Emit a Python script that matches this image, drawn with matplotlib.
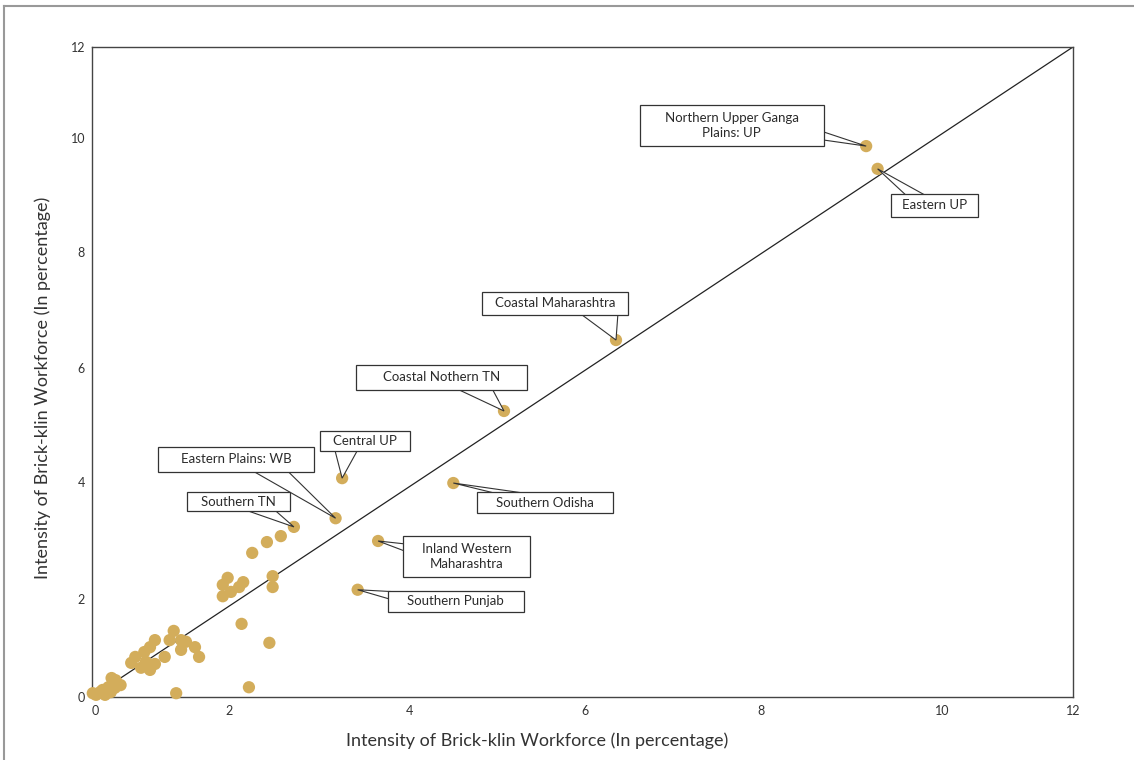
import matplotlib.pyplot as plt
from matplotlib.patches import Rectangle, Polygon
from matplotlib.lines import Line2D

plt.rcParams['font.family'] = ['Lato', 'DejaVu Sans']

# regions that get a callout
named_regions = ['Northern Upper Ganga\nPlains: UP', 'Eastern UP', 'Coastal Maharashtra',
                 'Coastal Nothern TN', 'Central UP', 'Eastern Plains: WB', 'Southern TN',
                 'Southern Odisha', 'Inland Western\nMaharashtra', 'Southern Punjab']
named_x = [9.47, 9.61, 6.41, 5.04, 3.06, 2.98, 2.47, 4.42, 3.50, 3.25]
named_y = [10.17, 9.75, 6.59, 5.28, 4.04, 3.30, 3.14, 3.95, 2.88, 1.98]

# remaining regions
other_x = [2.31, 2.14, 1.96, 1.66, 1.60, 1.85, 1.80, 1.70, 1.60, 2.21, 2.21, 1.83, 2.17,
           1.92, 1.03, 1.00, 1.09, 1.15, 1.26, 1.31, 1.09, 0.95, 0.89, 0.77, 0.71, 0.64,
           0.53, 0.48, 0.60, 0.71, 0.77, 0.66, 0.35, 0.29, 0.24, 0.20, 0.13, 0.10, 0.05,
           0.16, 0.23, 0.28, 0.01]
other_y = [2.97, 2.86, 2.66, 2.20, 2.07, 2.12, 2.03, 1.94, 1.86, 2.23, 2.03, 1.35, 1.00,
           0.18, 0.07, 1.22, 1.05, 1.02, 0.92, 0.74, 0.87, 1.05, 0.74, 1.05, 0.92, 0.83,
           0.74, 0.63, 0.54, 0.50, 0.61, 0.65, 0.22, 0.31, 0.35, 0.18, 0.13, 0.09, 0.04,
           0.04, 0.09, 0.17, 0.07]

tick_labels = ['0', '2', '4', '6', '8', '10', '12']
axis_title = 'Intensity of Brick-klin Workforce (In percentage)'

# callout layout: box (x0, x1, y0, y1) and the two points where the pointer leaves the box
boxes = [(6.70, 8.95, 10.17, 10.93), (9.77, 10.84, 8.86, 9.29), (4.77, 6.56, 7.05, 7.48),
         (3.23, 5.32, 5.67, 6.13), (2.79, 3.89, 4.54, 4.91), (0.81, 2.72, 4.15, 4.62),
         (1.16, 2.42, 3.43, 3.78), (4.71, 6.37, 3.40, 3.78), (3.80, 5.36, 2.22, 2.97),
         (3.62, 5.28, 1.57, 1.96)]
pointer_base = [((8.95, 10.47), (8.95, 10.28)), ((9.92, 9.29), (10.17, 9.29)),
                ((6.01, 7.05), (6.50, 7.05)), ((4.48, 5.67), (4.95, 5.67)),
                ((2.94, 4.54), (3.24, 4.54)), ((1.99, 4.15), (2.45, 4.15)),
                ((1.90, 3.43), (2.28, 3.43)), ((4.87, 3.78), (5.26, 3.78)),
                ((3.80, 2.84), (3.80, 2.68)), ((3.62, 1.96), (3.62, 1.79))]

gold = '#D3AD5B'
edge = '#333333'

fig = plt.figure(figsize=(11.34, 7.6), dpi=100)
ax = fig.add_axes([0.0811, 0.0829, 0.8651, 0.8553])
ax.set_xlim(0, 12)
ax.set_ylim(0, 12)

ax.plot([0, 12], [0, 12], color='#222222', lw=0.9, zorder=2)
ax.scatter(other_x, other_y, s=78, color=gold, edgecolors='none', zorder=3, clip_on=False)
ax.scatter(named_x, named_y, s=78, color=gold, edgecolors='none', zorder=3)

for name, px, py, (x0, x1, y0, y1), (b1, b2) in zip(named_regions, named_x, named_y,
                                                   boxes, pointer_base):
    # push the pointer base a little into the box so it is hidden under it
    cx, cy = (x0 + x1) / 2, (y0 + y1) / 2
    b1 = (b1[0] + (cx - b1[0]) * 0.08, b1[1] + (cy - b1[1]) * 0.08)
    b2 = (b2[0] + (cx - b2[0]) * 0.08, b2[1] + (cy - b2[1]) * 0.08)
    ax.add_patch(Polygon([b1, b2, (px, py)], closed=True, facecolor='white',
                         edgecolor=edge, lw=0.8, zorder=4))
    ax.add_patch(Rectangle((x0, y0), x1 - x0, y1 - y0, facecolor='white',
                           edgecolor=edge, lw=0.9, zorder=5))
    ax.text(cx, cy, name, ha='center', va='center', fontsize=9.5, color='#2b2b2b',
            linespacing=1.35, zorder=6)

for side in ax.spines.values():
    side.set_color('#444444')
    side.set_linewidth(1.0)

ax.set_xticks([0.04, 1.68, 3.88, 6.03, 8.18, 10.40, 12.0], tick_labels)
ax.set_yticks([0.0, 1.81, 3.96, 6.08, 8.21, 10.32, 12.0], tick_labels)
ax.tick_params(length=0, labelsize=9, labelcolor='#333333')
ax.tick_params(axis='x', pad=6)
ax.tick_params(axis='y', pad=5)

fig.text(0.4735, 0.025, axis_title, ha='center', va='center', fontsize=13, color='#333333')
fig.text(0.0379, 0.4895, axis_title, ha='center', va='center', rotation=90,
         fontsize=13, color='#333333')

# page frame on the left and top
fig.add_artist(Line2D([0.0035, 0.0035], [0, 0.992], color='#999999', lw=1.5))
fig.add_artist(Line2D([0.0035, 1], [0.992, 0.992], color='#999999', lw=1.5))

fig.savefig('out.png', dpi=100)
